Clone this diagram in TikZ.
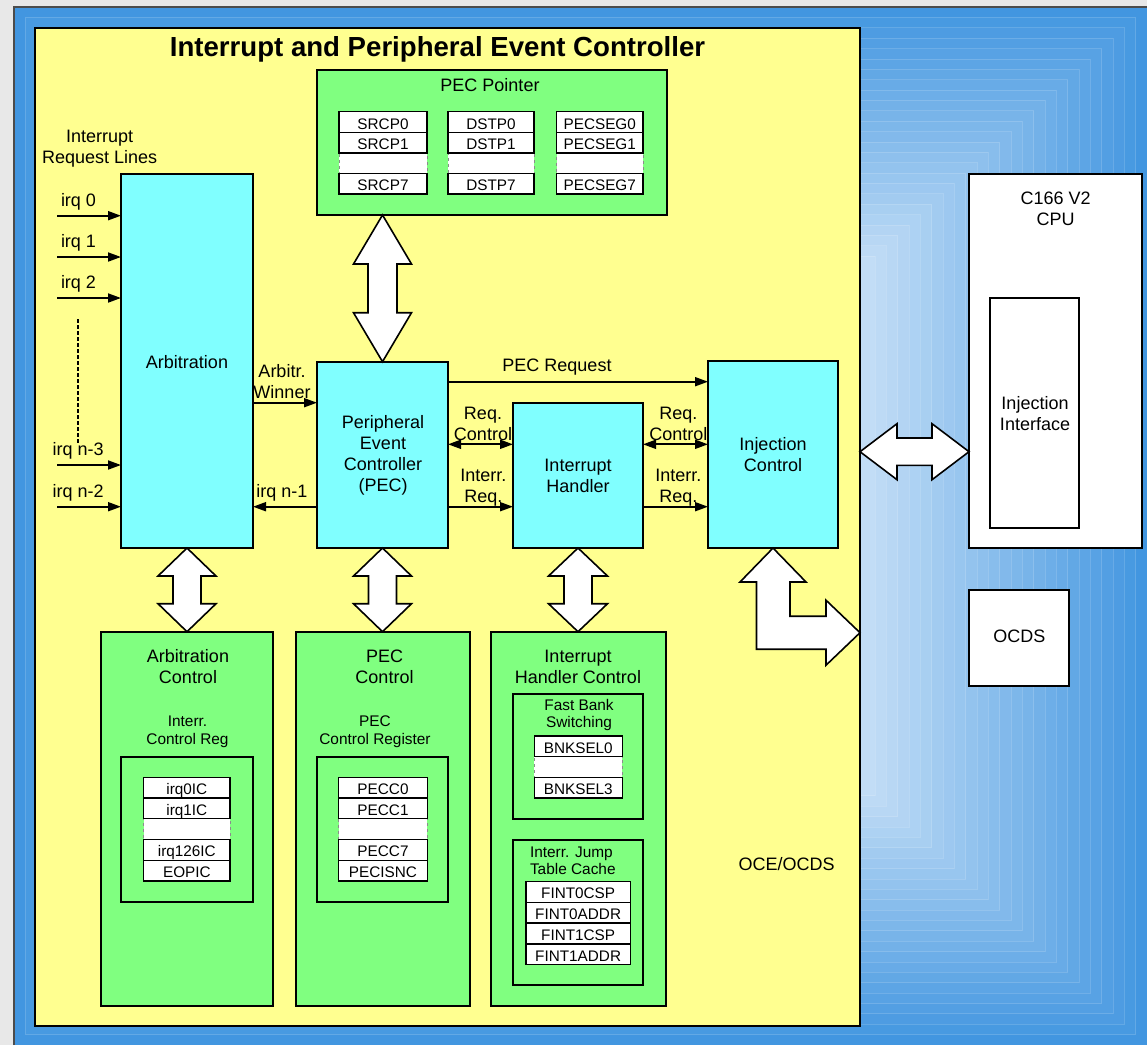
\documentclass[tikz,border=0pt]{standalone}
\usepackage{fontspec}
\setmainfont{Liberation Sans}
\usetikzlibrary{arrows.meta,calc}
\definecolor{yel}{RGB}{255,255,144}
\definecolor{grn}{RGB}{128,255,128}
\definecolor{cyn}{RGB}{128,255,255}
\definecolor{bout}{RGB}{66,150,224}
\definecolor{binn}{RGB}{194,221,246}
\definecolor{framegray}{RGB}{232,232,232}
\newcommand{\lblfont}{\fontsize{18}{21}\selectfont}
\newcommand{\mysmfont}{\fontsize{15.4}{17.4}\selectfont}
\newcommand{\myregfont}{\fontsize{15.3}{17}\selectfont}
\newcommand{\mytitlefont}{\fontsize{27.6}{31}\selectfont\bfseries}
% box: style, name, x1, y1, x2, y2
\newcommand{\bx}[6]{\node[#1, anchor=north west, minimum width={(#5)-(#3)}, minimum height={(#6)-(#4)}] (#2) at (#3,#4) {};}
% register row: name, x1, x2, ytop, h, text
\newcommand{\rg}[6]{\node[reg, anchor=north west, minimum width={(#3)-(#2)}, minimum height={#5}] (#1) at (#2,#4) {#6};}
\newcommand{\rgd}[5]{\node[regd, anchor=north west, minimum width={(#3)-(#2)}, minimum height={#5}] (#1) at (#2,#4) {};}
% vertical double block arrow: top coord, bottom coord, head half, shaft half, head length
\newcommand{\vdarr}[5]{%
\draw[blk] let \p1=#1, \p2=#2 in
 (\x1,\y1) -- ({\x1+#3pt},{\y1-#5pt}) -- ({\x1+#4pt},{\y1-#5pt}) -- ({\x1+#4pt},{\y2+#5pt})
 -- ({\x1+#3pt},{\y2+#5pt}) -- (\x1,\y2) -- ({\x1-#3pt},{\y2+#5pt}) -- ({\x1-#4pt},{\y2+#5pt})
 -- ({\x1-#4pt},{\y1-#5pt}) -- ({\x1-#3pt},{\y1-#5pt}) -- cycle;}
\newcommand{\hdarr}[5]{%
\draw[blk] let \p1=#1, \p2=#2 in
 (\x1,\y1) -- ({\x1+#5pt},{\y1+#3pt}) -- ({\x1+#5pt},{\y1+#4pt}) -- ({\x2-#5pt},{\y1+#4pt})
 -- ({\x2-#5pt},{\y1+#3pt}) -- (\x2,\y1) -- ({\x2-#5pt},{\y1-#3pt}) -- ({\x2-#5pt},{\y1-#4pt})
 -- ({\x1+#5pt},{\y1-#4pt}) -- ({\x1+#5pt},{\y1-#3pt}) -- cycle;}
\begin{document}
\begin{tikzpicture}[x=1pt,y=-1pt,
 every node/.style={inner sep=0pt, outer sep=0pt},
 box/.style={draw=black, line width=1.8pt},
 yelbox/.style={box, fill=yel, line width=2.2pt},
 grnbox/.style={box, fill=grn},
 cynbox/.style={box, fill=cyn},
 whtbox/.style={box, fill=white},
 reg/.style={draw=black, line width=1.3pt, fill=white, font=\myregfont, text height=14pt, text depth=0pt},
 regd/.style={draw=black!45, dashed, line width=1pt, fill=white},
 lbl/.style={font=\lblfont, align=center},
 sml/.style={font=\mysmfont, align=center},
 sig/.style={line width=1.8pt, -{Triangle[length=13pt,width=9pt]}},
 dsig/.style={line width=1.8pt, {Triangle[length=13pt,width=9pt]}-{Triangle[length=13pt,width=9pt]}},
 blk/.style={draw=black, fill=white, line width=1.6pt, line join=miter}]
\useasboundingbox (0,0) rectangle (1147,1045);
\fill[framegray] (0,0) rectangle (1147,1045);
% blue gradient background
\foreach \i in {0,...,24}{
 \pgfmathsetmacro\gt{1-\i/50}
 \pgfmathtruncatemacro\gp{100-\i*100/24}
 \fill[bout!\gp!binn] ({580.5-566.5*\gt},{526-519*\gt}) rectangle ({580.5+566.5*\gt},{526+519*\gt});
 \draw[white, opacity=0.15, line width=0.8pt] ({580.5-566.5*\gt},{526-519*\gt}) rectangle ({580.5+566.5*\gt},{526+519*\gt});
}
\draw[black!70, line width=1.5pt] (14,1045) -- (14,7) -- (1147,7);
% main boxes
\bx{yelbox}{iec}{35}{28}{860}{1026}
\bx{grnbox}{pecptr}{317}{70}{667}{215}
\bx{cynbox}{arb}{121}{174}{253}{548}
\bx{cynbox}{pec}{317}{361.7}{448}{548}
\bx{cynbox}{ih}{513}{402.7}{643}{548}
\bx{cynbox}{inj}{708}{361}{838}{548}
\bx{whtbox}{cpu}{969}{174}{1142}{548}
\bx{whtbox}{injif}{990}{298}{1078.7}{527.7}
\bx{whtbox}{ocds}{969.3}{590}{1069}{686}
\bx{grnbox}{arbc}{100.7}{631.7}{273}{1005.7}
\bx{grnbox}{arbcin}{121}{756.7}{252.7}{902}
\bx{grnbox}{pecc}{295.7}{631.7}{470.3}{1005.7}
\bx{grnbox}{peccin}{316.7}{756.7}{448}{902}
\bx{grnbox}{ihc}{491}{631.7}{665.7}{1005.7}
\bx{grnbox}{fbs}{513.3}{694}{643.3}{818.7}
\bx{grnbox}{ijt}{513.3}{840}{643.3}{985}
% PEC pointer registers
\rgd{sd}{339}{427}{152.4}{20.8}
\rg{s0}{339}{427}{111.7}{20.65}{SRCP0}
\rg{s1}{339}{427}{132.35}{20.65}{SRCP1}
\rg{s7}{339}{427}{173.3}{20.65}{SRCP7}
\rgd{dd}{448}{534}{152.4}{20.8}
\rg{d0}{448}{534}{111.7}{20.65}{DSTP0}
\rg{d1}{448}{534}{132.35}{20.65}{DSTP1}
\rg{d7}{448}{534}{173.3}{20.65}{DSTP7}
\rgd{pd}{556.5}{643}{152.4}{20.8}
\rg{p0}{556.5}{643}{111.7}{20.65}{PECSEG0}
\rg{p1}{556.5}{643}{132.35}{20.65}{PECSEG1}
\rg{p7}{556.5}{643}{173.3}{20.65}{PECSEG7}
% Arbitration control registers
\rgd{ad}{143.7}{230}{818.5}{20.8}
\rg{a0}{143.7}{230}{777.3}{20.74}{irq0IC}
\rg{a1}{143.7}{230}{798.04}{20.74}{irq1IC}
\rg{a126}{143.7}{230}{839.5}{20.74}{irq126IC}
\rg{aeop}{143.7}{230}{860.26}{20.74}{EOPIC}
% PEC control registers
\rgd{cd}{338.7}{427.3}{818.5}{20.8}
\rg{c0}{338.7}{427.3}{777.3}{20.74}{PECC0}
\rg{c1}{338.7}{427.3}{798.04}{20.74}{PECC1}
\rg{c7}{338.7}{427.3}{839.5}{20.74}{PECC7}
\rg{cis}{338.7}{427.3}{860.26}{20.74}{PECISNC}
% bank select
\rgd{bd}{534.3}{622.3}{756.7}{20.67}
\rg{b0}{534.3}{622.3}{736}{20.67}{BNKSEL0}
\rg{b3}{534.3}{622.3}{777.3}{20.67}{BNKSEL3}
% jump table cache
\rg{f0}{526}{630.3}{881.3}{20.85}{FINT0CSP}
\rg{f1}{526}{630.3}{902.15}{20.85}{FINT0ADDR}
\rg{f2}{526}{630.3}{923}{20.85}{FINT1CSP}
\rg{f3}{526}{630.3}{943.85}{20.85}{FINT1ADDR}
% block arrows
\vdarr{(pecptr.south -| pec.north)}{(pec.north)}{29}{14.5}{49}
\vdarr{(arb.south)}{(arbc.north)}{29}{14}{28}
\vdarr{(pec.south)}{(pecc.north)}{29}{14}{28}
\vdarr{(ih.south)}{(ihc.north)}{29.5}{14}{28}
\coordinate (hmid) at (0,451.7);
\hdarr{(iec.east |- hmid)}{(cpu.west |- hmid)}{28}{13.7}{37}
\coordinate (lmid) at (0,632.7);
\draw[blk] let \p1=(inj.south), \p2=(iec.east |- lmid) in
 (\x1,\y1) -- ({\x1+33pt},{\y1-34pt}) -- ({\x1+17pt},{\y1-34pt}) -- ({\x1+17pt},{\y2+16.5pt})
 -- ({\x2-34pt},{\y2+16.5pt}) -- ({\x2-34pt},{\y2+32.5pt}) -- (\x2,\y2) -- ({\x2-34pt},{\y2-32.5pt})
 -- ({\x2-34pt},{\y2-16.5pt}) -- ({\x1-16.5pt},{\y2-16.5pt}) -- ({\x1-16.5pt},{\y1-34pt})
 -- ({\x1-33pt},{\y1-34pt}) -- cycle;
% irq inputs
\coordinate (q0) at (57,215.7);
\coordinate (q1) at (57,257);
\coordinate (q2) at (57,298);
\coordinate (q3) at (57,465);
\coordinate (q4) at (57,506.7);
\foreach \q in {q0,q1,q2,q3,q4}{\draw[sig] (\q) -- (\q -| arb.west);}
\draw[line width=1.5pt, dash pattern=on 3.5pt off 2.5pt] (78,319) -- (78,443);
% signal arrows
\coordinate (yaw) at (0,402.7);
\coordinate (yn1) at (0,506.7);
\coordinate (ypr) at (0,381.7);
\coordinate (yrc) at (0,444.3);
\draw[sig] (arb.east |- yaw) -- (pec.west |- yaw);
\draw[sig] (pec.west |- yn1) -- (arb.east |- yn1);
\draw[sig] (pec.east |- ypr) -- (inj.west |- ypr);
\draw[dsig] (pec.east |- yrc) -- (ih.west |- yrc);
\draw[dsig] (ih.east |- yrc) -- (inj.west |- yrc);
\draw[sig] (pec.east |- yn1) -- (ih.west |- yn1);
\draw[sig] (ih.east |- yn1) -- (inj.west |- yn1);
% texts
\node[font=\mytitlefont, anchor=base] (title) at (437.5,56.5) {Interrupt and Peripheral Event Controller};
\node[lbl, anchor=base] (tpp) at (490,91.7) {PEC Pointer};
\node[lbl] (tirl) at (99.7,148.5) {Interrupt\\Request Lines};
\node[lbl, anchor=base west] (tq0) at (61,206.2) {irq 0};
\node[lbl, anchor=base west] (tq1) at (61,247.5) {irq 1};
\node[lbl, anchor=base west] (tq2) at (61,288.5) {irq 2};
\node[lbl, anchor=base west] (tq3) at (52.7,455.5) {irq n-3};
\node[lbl, anchor=base west] (tq4) at (52.7,497.2) {irq n-2};
\node[lbl, anchor=base] (tarb) at (187,368.3) {Arbitration};
\node[lbl] (taw) at (282,381.5) {Arbitr.\\Winner};
\node[lbl, anchor=base] (tn1) at (282,497) {irq n-1};
\node[lbl] (tpec) at (383,455.5) {Peripheral\\Event\\Controller\\(PEC)};
\node[lbl, anchor=base] (tpr) at (557,371.7) {PEC Request};
\node[lbl] (trc1) at (483,423.5) {Req.\\Control};
\node[lbl] (tir1) at (483.3,487.4) {Interr.\\Req.};
\node[lbl] (trc2) at (678.3,423.5) {Req.\\Control};
\node[lbl] (tir2) at (678.3,487.4) {Interr.\\Req.};
\node[lbl] (tih) at (578,475.5) {Interrupt\\Handler};
\node[lbl] (tinj) at (773,454.7) {Injection\\Control};
\node[lbl] (tcpu) at (1055.7,208.3) {C166 V2\\CPU};
\node[lbl] (tii) at (1035,413.3) {Injection\\Interface};
\node[lbl, anchor=base] (tocds) at (1019.3,642.7) {OCDS};
\node[lbl, anchor=base] (toce) at (786.7,870) {OCE/OCDS};
\node[lbl] (tac) at (188,666.7) {Arbitration\\Control};
\node[sml] (ticr) at (187.5,731.8) {Interr.\\Control Reg};
\node[lbl] (tpc) at (384.5,666.7) {PEC\\Control};
\node[sml] (tpcr) at (375,731.8) {PEC\\Control Register};
\node[lbl] (tihc) at (578,666.7) {Interrupt\\Handler Control};
\node[sml] (tfbs) at (579,715) {Fast Bank\\Switching};
\node[sml, anchor=west, align=left] (tijt) at (530,860.5) {Interr. Jump\\Table Cache};
\end{tikzpicture}
\end{document}
